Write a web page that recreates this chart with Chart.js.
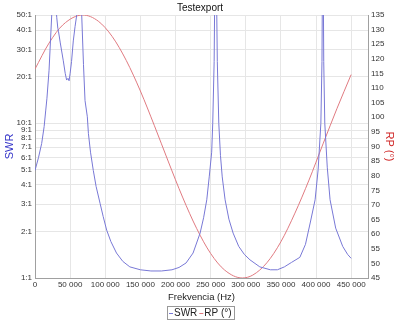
<!DOCTYPE html>
<html lang="sk">
<head>
  <meta charset="UTF-8">
  <title>Testexport</title>
  <script src="https://cdn.jsdelivr.net/npm/chart.js@4.4.4/dist/chart.umd.min.js"></script>
  <style>
    html, body { margin: 0; padding: 0; background: #fff; }
    canvas { display: block; }
  </style>
</head>
<body>
  <canvas id="chart" width="400" height="320"></canvas>

  <script>
    // SWR (Hz, ratio). Values above 50 are clipped by the plot.
    const swrFreq = [
      0, 5000, 9500, 13000, 15200, 17000, 20000, 23800, 26500, 29500,
      31000, 32500, 33500, 36000, 40300, 43000, 45000, 47000, 48500, 50000,
      52000, 54500, 57000, 59400, 62500, 66500, 69000, 71200, 74500, 76000,
      79000, 83000, 87000, 92600, 97000, 102000, 108000, 116000, 125000, 135000,
      150000, 165000, 180000, 195000, 205000, 215000, 225000, 235000, 240000, 244500,
      248000, 251500, 253000, 255000, 257000, 259500, 261600, 264000, 266500, 270600,
      276000, 282000, 290000, 298000, 306000, 320000, 335000, 345000, 355000, 365000,
      377000, 385000, 392000, 398700, 403000, 406900, 408500, 409700, 411000, 412500,
      416000, 420000, 428000, 438000, 445000, 450000
    ];
    const swrValues = [
      4.95, 6.0, 7.4, 9.5, 12, 14.5, 22, 50, 150, 60,
      48, 41, 39, 33, 25.3, 21, 19, 19.5, 18.8, 21,
      25, 34, 42, 50, 160, 50, 24, 14, 11, 8.6,
      6.5, 4.95, 3.9, 3.04, 2.5, 2.04, 1.72, 1.45, 1.28, 1.18,
      1.13, 1.11, 1.11, 1.13, 1.17, 1.25, 1.45, 1.95, 2.45, 3.2,
      4.5, 6.5, 10, 25, 250, 25, 10, 6.2, 4.5, 3.2,
      2.4, 1.95, 1.6, 1.42, 1.31, 1.18, 1.13, 1.13, 1.18, 1.26,
      1.36, 1.65, 2.3, 3.2, 5, 10, 25, 250, 25, 10,
      5.2, 3.2, 2.1, 1.6, 1.42, 1.34
    ];

    // RP in degrees
    const rpFreq = [
      0, 20000, 40000, 68000, 90000, 110000, 130000, 150000, 170000, 190000,
      210000, 230000, 250000, 270000, 295000, 310000, 330000, 350000, 370000, 390000,
      410000, 430000, 450000
    ];
    const rpValues = [
      116.5, 125.4, 131.7, 135, 132.9, 127.6, 119.4, 109.0, 97.1, 84.7,
      72.7, 62.0, 53.4, 47.7, 45, 46.0, 50.2, 57.4, 67.2, 78.5,
      90.9, 103.1, 114.6
    ];

    const freqTicks = [0, 50000, 100000, 150000, 200000, 250000, 300000, 350000, 400000, 450000];
    const swrTicks = [1, 2, 3, 4, 5, 6, 7, 8, 9, 10, 20, 30, 40, 50];

    Chart.defaults.font.family = "'Liberation Sans', Arial, sans-serif";
    Chart.defaults.color = '#333';

    const thousands = v => v.toString().replace(/\B(?=(\d{3})+(?!\d))/g, ' ');

    // small boxed legend under the axis title
    const boxLegend = {
      id: 'boxLegend',
      afterDraw(chart) {
        const ctx = chart.ctx;
        ctx.save();
        ctx.font = "10px 'Liberation Sans', Arial, sans-serif";
        ctx.textBaseline = 'middle';
        const dash = 4, gap = 1, between = 2, pad = 2;
        const items = chart.data.datasets.map(ds => ({
          text: ds.label, color: ds.borderColor, w: ctx.measureText(ds.label).width
        }));
        const total = items.reduce((s, it) => s + dash + gap + it.w, 0) + between * (items.length - 1) + pad * 2;
        let x = Math.round(200 - total / 2);
        const y = 313;
        ctx.strokeStyle = '#999';
        ctx.lineWidth = 1;
        ctx.strokeRect(x + 0.5, 306.5, Math.round(total), 13);
        x += pad;
        items.forEach(it => {
          ctx.strokeStyle = it.color;
          ctx.beginPath();
          ctx.moveTo(x, y + 0.5);
          ctx.lineTo(x + dash, y + 0.5);
          ctx.stroke();
          x += dash + gap;
          ctx.fillStyle = '#222';
          ctx.fillText(it.text, x, y);
          x += it.w + between;
        });
        ctx.restore();
      }
    };

    new Chart(document.getElementById('chart'), {
      type: 'line',
      data: {
        datasets: [
          {
            label: 'SWR',
            data: swrFreq.map((f, i) => ({ x: f, y: swrValues[i] })),
            yAxisID: 'y',
            borderColor: '#7878d6',
            borderWidth: 1,
            pointRadius: 0,
            tension: 0
          },
          {
            label: 'RP (°)',
            data: rpFreq.map((f, i) => ({ x: f, y: rpValues[i] })),
            yAxisID: 'y1',
            borderColor: '#e07a80',
            borderWidth: 1,
            pointRadius: 0,
            cubicInterpolationMode: 'monotone'
          }
        ]
      },
      options: {
        responsive: false,
        animation: false,
        layout: { padding: { bottom: 16 } },
        plugins: {
          legend: { display: false },
          tooltip: { enabled: false },
          title: {
            display: true,
            text: 'Testexport',
            color: '#111',
            font: { size: 10, weight: 'normal' },
            padding: { top: 2, bottom: 1 }
          }
        },
        scales: {
          x: {
            type: 'linear',
            min: 0,
            max: 474000,
            afterFit: s => { s.height = 26; },
            afterBuildTicks: s => { s.ticks = freqTicks.map(v => ({ value: v })); },
            ticks: {
              autoSkip: false,
              maxRotation: 0,
              padding: 2,
              font: { size: 8 },
              callback: v => thousands(v)
            },
            grid: { color: '#e6e6e6', drawTicks: false },
            border: { color: '#a0a0a0' },
            title: {
              display: true,
              text: 'Frekvencia (Hz)',
              color: '#222',
              font: { size: 9.5 },
              padding: { top: 0, bottom: 1 }
            }
          },
          y: {
            type: 'logarithmic',
            position: 'left',
            min: 1,
            max: 50,
            afterFit: s => { s.width = 35; },
            afterBuildTicks: s => { s.ticks = swrTicks.map(v => ({ value: v })); },
            ticks: {
              autoSkip: false,
              padding: 3,
              font: { size: 8 },
              callback: v => v + ':1'
            },
            grid: { color: '#e6e6e6', drawTicks: false },
            border: { color: '#a0a0a0' },
            title: {
              display: true,
              text: 'SWR',
              color: '#3434c8',
              font: { size: 11 },
              padding: { top: 3, bottom: 0 }
            }
          },
          y1: {
            type: 'linear',
            position: 'right',
            min: 45,
            max: 135,
            afterFit: s => { s.width = 32; },
            ticks: {
              stepSize: 5,
              autoSkip: false,
              padding: 3,
              font: { size: 8 }
            },
            grid: { drawOnChartArea: false, drawTicks: false },
            border: { color: '#a0a0a0' },
            title: {
              display: true,
              text: 'RP (°)',
              color: '#d02828',
              font: { size: 11 },
              padding: { top: 4, bottom: 0 }
            }
          }
        }
      },
      plugins: [boxLegend]
    });
  </script>
</body>
</html>
